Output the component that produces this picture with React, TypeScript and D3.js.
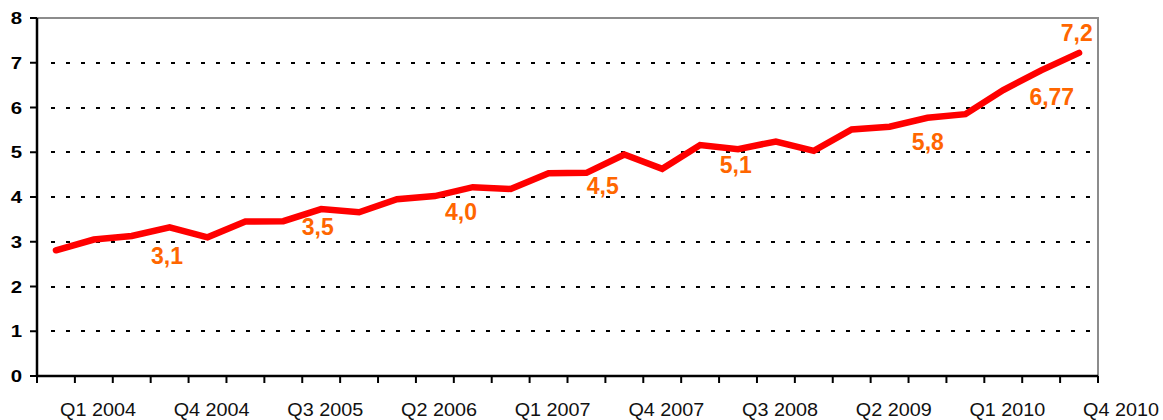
import React, { useEffect, useRef } from "react";
import * as d3 from "d3";

// quarters Q1 2004 .. Q4 2010
const quarters = [
  "Q1 2004", "Q2 2004", "Q3 2004", "Q4 2004",
  "Q1 2005", "Q2 2005", "Q3 2005", "Q4 2005",
  "Q1 2006", "Q2 2006", "Q3 2006", "Q4 2006",
  "Q1 2007", "Q2 2007", "Q3 2007", "Q4 2007",
  "Q1 2008", "Q2 2008", "Q3 2008", "Q4 2008",
  "Q1 2009", "Q2 2009", "Q3 2009", "Q4 2009",
  "Q1 2010", "Q2 2010", "Q3 2010", "Q4 2010",
];

const values = [
  2.81, 3.05, 3.13, 3.32, 3.1, 3.45, 3.46, 3.73, 3.66, 3.95, 4.02, 4.22, 4.18, 4.53,
  4.54, 4.95, 4.63, 5.16, 5.07, 5.24, 5.03, 5.51, 5.57, 5.77, 5.85, 6.39, 6.83, 7.22,
];

const yTicks = [0, 1, 2, 3, 4, 5, 6, 7, 8];

// annotation labels
const noteLabels = ["3,1", "3,5", "4,0", "4,5", "5,1", "5,8", "6,77", "7,2"];
// where each label sits (quarter index, value at baseline)
const notePlaces = [
  [2.93, 2.5], [6.91, 3.15], [10.69, 3.49], [14.43, 4.07],
  [17.94, 4.54], [23.01, 5.05], [26.28, 6.06], [26.94, 7.49],
];

const W = 1163;
const H = 420;
const m = { left: 37, right: 1098, top: 18, bottom: 376 };
const FONT = "'Liberation Sans', Arial, sans-serif";

export default function App() {
  const ref = useRef<SVGSVGElement>(null);

  useEffect(() => {
    const svg = d3.select(ref.current);
    svg.selectAll("*").remove();

    const x = d3.scaleLinear().domain([-0.5, quarters.length - 0.5]).range([m.left, m.right]);
    const y = d3.scaleLinear().domain([0, 8]).range([m.bottom, m.top]);

    // dotted gridlines
    svg
      .append("g")
      .attr("shape-rendering", "crispEdges")
      .selectAll("line")
      .data(yTicks.filter((d) => d > 0))
      .join("line")
      .attr("x1", m.left + 3)
      .attr("x2", m.right)
      .attr("y1", (d) => Math.round(y(d)))
      .attr("y2", (d) => Math.round(y(d)))
      .attr("stroke", "#000")
      .attr("stroke-width", 2)
      .attr("stroke-dasharray", "4 11")
      .attr("stroke-dashoffset", -11);

    // grey frame top/right
    svg
      .append("path")
      .attr("d", `M${m.left},${m.top}H${m.right}V${m.bottom}`)
      .attr("fill", "none")
      .attr("stroke", "#8c8c8c")
      .attr("stroke-width", 2);

    // y axis
    const yAxis = svg.append("g");
    yAxis
      .append("line")
      .attr("x1", m.left)
      .attr("x2", m.left)
      .attr("y1", m.top)
      .attr("y2", m.bottom)
      .attr("stroke", "#000")
      .attr("stroke-width", 2.5);
    yAxis
      .selectAll("line.tick")
      .data(yTicks)
      .join("line")
      .attr("class", "tick")
      .attr("x1", m.left - 7)
      .attr("x2", m.left)
      .attr("y1", (d) => y(d))
      .attr("y2", (d) => y(d))
      .attr("stroke", "#000")
      .attr("stroke-width", 2);
    yAxis
      .selectAll("text")
      .data(yTicks)
      .join("text")
      .attr("transform", (d) => `translate(22,${y(d) + 6}) scale(1.2,1)`)
      .attr("text-anchor", "end")
      .attr("font-family", FONT)
      .attr("font-weight", "bold")
      .attr("font-size", 17)
      .text((d) => d);

    // x axis
    const xAxis = svg.append("g");
    xAxis
      .append("line")
      .attr("x1", m.left)
      .attr("x2", m.right)
      .attr("y1", m.bottom)
      .attr("y2", m.bottom)
      .attr("stroke", "#000")
      .attr("stroke-width", 2.5);
    xAxis
      .selectAll("line.tick")
      .data(d3.range(-0.5, quarters.length))
      .join("line")
      .attr("class", "tick")
      .attr("x1", (d) => x(d))
      .attr("x2", (d) => x(d))
      .attr("y1", m.bottom)
      .attr("y2", m.bottom + 7)
      .attr("stroke", "#000")
      .attr("stroke-width", 2);
    xAxis
      .selectAll("text")
      .data(quarters.map((q, i) => ({ q, i })).filter((d) => d.i % 3 === 0))
      .join("text")
      .attr("transform", (d) => `translate(${x(d.i) + 42},416) scale(1.1,1)`)
      .attr("text-anchor", "middle")
      .attr("font-family", FONT)
      .attr("font-size", 18)
      .attr("fill", "#111")
      .text((d) => d.q);

    // the line
    const line = d3
      .line<number>()
      .x((d, i) => x(i))
      .y((d) => y(d));
    svg
      .append("path")
      .datum(values)
      .attr("d", line)
      .attr("fill", "none")
      .attr("stroke", "#ff0000")
      .attr("stroke-width", 6.5)
      .attr("stroke-linejoin", "miter")
      .attr("stroke-linecap", "round");

    // orange annotations
    svg
      .append("g")
      .selectAll("text")
      .data(noteLabels)
      .join("text")
      .attr("x", (d, i) => x(notePlaces[i][0]))
      .attr("y", (d, i) => y(notePlaces[i][1]))
      .attr("text-anchor", "middle")
      .attr("font-family", FONT)
      .attr("font-weight", "bold")
      .attr("font-size", 23)
      .attr("fill", "#ff6600")
      .text((d) => d);
  }, []);

  return (
    <svg
      ref={ref}
      width={W}
      height={H}
      style={{ position: "absolute", left: 0, top: 0, background: "#fff" }}
    />
  );
}
